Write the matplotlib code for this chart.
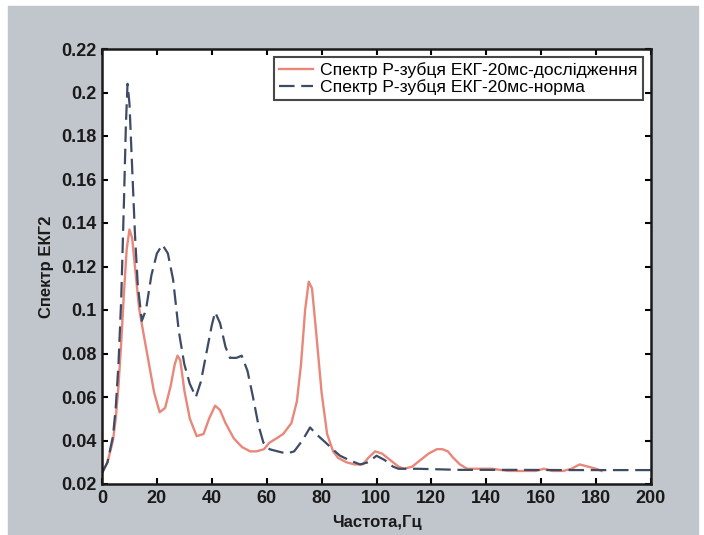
import matplotlib.pyplot as plt
from matplotlib.patches import Rectangle

# Спектр Р-зубця, дослідження (суцільна лінія)
freq_test = [0, 2, 4, 5, 6, 7, 8, 9, 10, 11, 12, 13.5, 15, 17, 19, 21, 23, 25, 26.5, 27.5,
             28.5, 30, 32, 34.5, 37, 39, 41.2, 43, 45, 48, 51, 54, 56.3, 59, 61, 63.6,
             66, 69, 71, 72.5, 74, 75.3, 76.5, 78, 80, 82, 84.2, 86, 89, 92, 95, 97,
             99.5, 102, 105, 108, 110, 113, 116, 119, 122, 124, 126, 128, 130.4, 133,
             137, 142, 148, 153, 158, 161, 164, 168, 171, 174, 177, 180, 182]
spec_test = [0.025, 0.030, 0.040, 0.050, 0.065, 0.085, 0.108, 0.128, 0.137, 0.133, 0.120,
             0.101, 0.090, 0.076, 0.062, 0.053, 0.055, 0.065, 0.075, 0.079,
             0.077, 0.063, 0.050, 0.042, 0.043, 0.050, 0.056, 0.054, 0.048, 0.041, 0.037,
             0.035, 0.035, 0.036, 0.039, 0.041, 0.043, 0.048, 0.058, 0.075, 0.100, 0.113,
             0.110, 0.090, 0.062, 0.043, 0.035, 0.032, 0.030, 0.029, 0.029, 0.032,
             0.035, 0.034, 0.031, 0.028, 0.027, 0.028, 0.031, 0.034, 0.036, 0.036, 0.035,
             0.032, 0.029, 0.027, 0.027, 0.027, 0.026, 0.026, 0.026, 0.027, 0.026, 0.026,
             0.027, 0.029, 0.028, 0.027, 0.026]

# Спектр Р-зубця, норма (штрихова лінія)
freq_norm = [0, 2, 4, 5, 6, 7, 8, 8.7, 9.3, 10, 11, 12, 13, 14.5, 16, 18, 20, 22, 24,
             25.9, 28, 30, 32, 34.2, 36, 38, 40, 41.2, 43, 45, 46.6, 49, 50.9, 53,
             55, 57, 58.8, 61, 64, 67.3, 70, 73, 75.8, 78, 81.5, 84, 86.7, 90, 94, 97,
             100, 103, 106, 108, 115, 130, 150, 170, 200]
spec_norm = [0.025, 0.030, 0.042, 0.055, 0.075, 0.105, 0.150, 0.185, 0.204, 0.195, 0.165,
             0.135, 0.112, 0.095, 0.100, 0.116, 0.126, 0.130, 0.126,
             0.114, 0.090, 0.075, 0.066, 0.060, 0.067, 0.080, 0.093, 0.099, 0.094, 0.083,
             0.078, 0.078, 0.079, 0.072, 0.060, 0.047, 0.039, 0.036, 0.035, 0.034, 0.035,
             0.040, 0.046, 0.043, 0.039, 0.036, 0.033, 0.031, 0.029, 0.030,
             0.033, 0.031, 0.028, 0.027, 0.027, 0.0265, 0.0265, 0.0264, 0.0264]

x_ticks = [0, 20, 40, 60, 80, 100, 120, 140, 160, 180, 200]
y_ticks = [0.02, 0.04, 0.06, 0.08, 0.1, 0.12, 0.14, 0.16, 0.18, 0.2, 0.22]
y_tick_labels = ['0.02', '0.04', '0.06', '0.08', '0.1', '0.12', '0.14', '0.16', '0.18', '0.2', '0.22']

narrow = ['Liberation Sans Narrow', 'Liberation Sans', 'DejaVu Sans']
plt.rcParams['font.family'] = ['Liberation Sans', 'DejaVu Sans']

fig = plt.figure(figsize=(7.04, 5.35), dpi=100, facecolor='white')
# сіре тло вікна
fig.add_artist(Rectangle((8 / 704, 0), 690 / 704, 1 - 6 / 535,
                         transform=fig.transFigure, color='#c1c5cc', zorder=-10))

ax = fig.add_axes([102 / 704, 1 - 484 / 535, 549 / 704, 435 / 535])
ax.set_zorder(1)
ax.set_facecolor('white')

ax.plot(freq_test, spec_test, color='#e8877a', lw=1.7,
        label='Спектр Р-зубця ЕКГ-20мс-дослідження')
ax.plot(freq_norm, spec_norm, color='#3e4b65', lw=1.6, dashes=(7, 3),
        label='Спектр Р-зубця ЕКГ-20мс-норма')

ax.set_xlim(0, 200)
ax.set_ylim(0.02, 0.22)
ax.set_xticks(x_ticks)
ax.set_xticklabels([str(t) for t in x_ticks])
ax.set_yticks(y_ticks)
ax.set_yticklabels(y_tick_labels)
for lbl in ax.get_xticklabels() + ax.get_yticklabels():
    lbl.set_family(narrow)
    lbl.set_fontweight('bold')
    lbl.set_fontsize(13)
    lbl.set_color('#1a1a1a')

ax.tick_params(direction='in', top=True, right=True, length=4, width=1.5, pad=4)
for s in ax.spines.values():
    s.set_linewidth(1.8)
    s.set_color('#1a1a1a')

ax.set_xlabel('Частота,Гц', family=narrow, fontweight='bold', fontsize=12,
              labelpad=6, color='#1a1a1a')
ax.set_ylabel('Спектр ЕКГ2', family=narrow, fontweight='bold', fontsize=12,
              labelpad=5, color='#1a1a1a')

leg = ax.legend(loc='upper right', fontsize=12.6, frameon=True, fancybox=False,
                edgecolor='#1a1a1a', borderaxespad=0.45, handlelength=1.9,
                handletextpad=0.45, borderpad=0.3, labelspacing=0.08)
leg.get_frame().set_linewidth(1.5)

fig.savefig('out.png', dpi=100, facecolor=fig.get_facecolor())
